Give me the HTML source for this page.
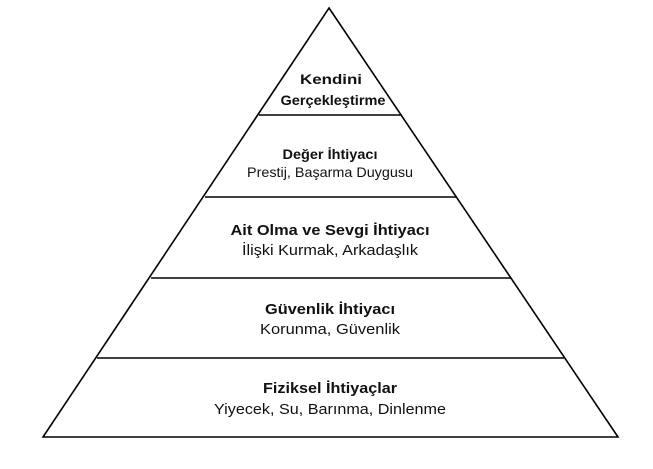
<!DOCTYPE html>
<html><head><meta charset="utf-8"><style>
html,body{margin:0;padding:0;background:#fff;}
svg{display:block;}
text{font-family:"Liberation Sans",Arial,sans-serif;fill:#111;text-anchor:middle;}
.b{font-weight:bold;}
</style></head><body>
<svg width="653" height="469" viewBox="0 0 653 469">
<polygon points="329,8 618,437 43,437" fill="#fff" stroke="#000" stroke-width="1.6"/>
<g stroke="#000" stroke-width="1.6">
<line x1="259" y1="115" x2="402" y2="115"/>
<line x1="205" y1="197" x2="457" y2="197"/>
<line x1="151" y1="278" x2="511" y2="278"/>
<line x1="97" y1="358" x2="564" y2="358"/>
</g>
<text class="b" x="331" y="84" font-size="14" textLength="62" lengthAdjust="spacingAndGlyphs">Kendini</text>
<text class="b" x="333" y="105" font-size="14" textLength="105" lengthAdjust="spacingAndGlyphs">Gerçekleştirme</text>
<text class="b" x="330" y="159" font-size="14" textLength="95" lengthAdjust="spacingAndGlyphs">Değer İhtiyacı</text>
<text x="330" y="177" font-size="14" textLength="166" lengthAdjust="spacingAndGlyphs">Prestij, Başarma Duygusu</text>
<text class="b" x="330" y="235" font-size="15" textLength="199" lengthAdjust="spacingAndGlyphs">Ait Olma ve Sevgi İhtiyacı</text>
<text x="330" y="255" font-size="15" textLength="176" lengthAdjust="spacingAndGlyphs">İlişki Kurmak, Arkadaşlık</text>
<text class="b" x="330" y="314" font-size="15" textLength="130" lengthAdjust="spacingAndGlyphs">Güvenlik İhtiyacı</text>
<text x="330" y="334" font-size="15" textLength="140" lengthAdjust="spacingAndGlyphs">Korunma, Güvenlik</text>
<text class="b" x="330" y="393" font-size="15" textLength="134" lengthAdjust="spacingAndGlyphs">Fiziksel İhtiyaçlar</text>
<text x="330" y="414" font-size="15" textLength="232" lengthAdjust="spacingAndGlyphs">Yiyecek, Su, Barınma, Dinlenme</text>
</svg>
</body></html>
